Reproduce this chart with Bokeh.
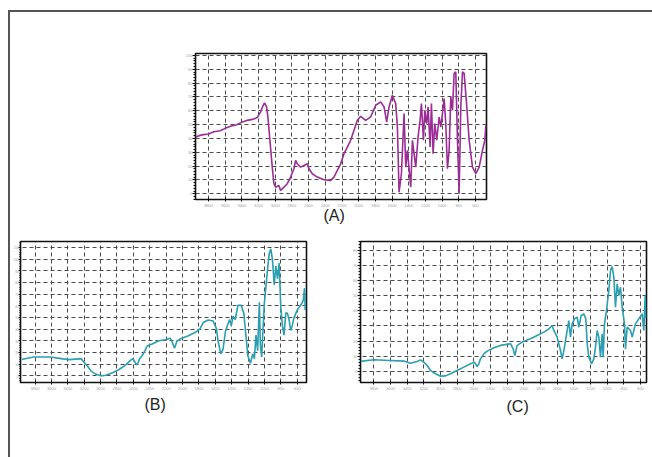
from bokeh.plotting import figure
from bokeh.layouts import row, column
from bokeh.models import Range1d, SingleIntervalTicker, Title, Spacer, Div
from bokeh.embed import file_html
from bokeh.resources import INLINE

# ---------------- data (wavenumber, cm-1 ; transmittance, %) ----------------
wn_a = [3956, 3880, 3800, 3736, 3660, 3600, 3536, 3460, 3400, 3336,
        3260, 3216, 3176, 3144, 3128, 3104, 3088, 3064, 3036, 3016,
        2996, 2956, 2936, 2896, 2856, 2816, 2776, 2756, 2736, 2696,
        2656, 2616, 2596, 2556, 2496, 2416, 2336, 2296, 2256, 2216,
        2176, 2136, 2096, 2056, 2016, 1976, 1916, 1856, 1796, 1736,
        1696, 1664, 1636, 1596, 1556, 1536, 1516, 1488, 1456, 1436,
        1416, 1376, 1356, 1336, 1316, 1288, 1264, 1248, 1224, 1208,
        1184, 1168, 1144, 1128, 1108, 1088, 1064, 1036, 1016, 996,
        976, 956, 936, 916, 896, 876, 856, 836, 816, 796,
        776, 756, 736, 704, 676, 636, 596, 556, 516, 488,
        476]
t_a = [41.1, 42.6, 43.2, 44.9, 45.6, 47.3, 48.8, 49.9, 51.8, 53.1,
       54.0, 55.1, 59.2, 64.0, 65.7, 62.8, 55.5, 38.7, 19.3, 7.3,
       4.8, 6.0, 2.4, 4.8, 7.3, 12.1, 18.1, 24.2, 21.7, 19.3,
       20.5, 21.7, 18.1, 14.5, 12.1, 10.2, 9.7, 12.1, 16.9, 21.7,
       29.0, 33.8, 38.7, 45.9, 53.1, 56.0, 53.1, 55.6, 64.0, 66.4,
       62.8, 51.9, 62.8, 71.2, 65.2, 48.3, 1.2, 14.5, 58.0, 19.3,
       31.4, 4.8, 38.7, 29.0, 19.3, 41.1, 53.1, 65.2, 38.7, 60.4,
       50.7, 62.8, 33.8, 65.2, 29.0, 50.7, 38.7, 55.5, 48.3, 58.0,
       68.8, 50.7, 18.1, 31.4, 70.0, 60.4, 87.0, 88.2, 38.7, 0.0,
       62.8, 88.2, 87.0, 62.8, 38.7, 19.3, 14.5, 19.3, 31.4, 38.7,
       49.5]

wn_b = [3961, 3820, 3619, 3458, 3377, 3236, 3208, 3156, 3116, 3055,
        2995, 2935, 2854, 2774, 2693, 2633, 2605, 2572, 2552, 2524,
        2492, 2460, 2432, 2371, 2291, 2210, 2150, 2122, 2098, 2069,
        2029, 1929, 1848, 1788, 1747, 1687, 1627, 1586, 1566, 1534,
        1506, 1478, 1454, 1426, 1405, 1385, 1357, 1325, 1285, 1253,
        1224, 1204, 1172, 1144, 1124, 1104, 1084, 1063, 1051, 1035,
        1003, 983, 963, 943, 923, 903, 882, 862, 842, 822,
        802, 782, 762, 741, 721, 701, 681, 661, 641, 601,
        560, 528, 512, 504]
t_b = [14.0, 16.2, 16.2, 14.6, 14.0, 14.8, 12.2, 8.1, 4.1, 1.4,
       0.1, 0.6, 2.8, 5.5, 9.5, 13.5, 14.8, 10.8, 9.5, 14.8,
       17.5, 21.5, 25.6, 27.4, 30.1, 30.9, 32.3, 28.2, 23.7, 29.6,
       31.7, 34.4, 37.1, 40.3, 45.7, 47.8, 47.0, 40.3, 29.6, 18.9,
       22.9, 37.6, 43.0, 48.3, 43.0, 51.0, 48.3, 60.4, 60.4, 53.7,
       32.3, 17.5, 10.8, 18.9, 14.8, 34.9, 21.5, 63.1, 26.9, 16.2,
       61.7, 76.5, 91.2, 104.6, 108.6, 99.3, 77.8, 93.9, 83.2, 96.6,
       59.1, 43.0, 34.9, 53.7, 53.7, 48.3, 39.0, 43.0, 49.7, 56.4,
       60.4, 64.4, 75.1, 56.4]

wn_c = [3960, 3800, 3600, 3440, 3360, 3280, 3240, 3200, 3160, 3120,
        3060, 3000, 2940, 2880, 2800, 2720, 2640, 2592, 2560, 2540,
        2520, 2480, 2440, 2360, 2280, 2160, 2128, 2108, 2080, 2020,
        1920, 1840, 1760, 1700, 1660, 1640, 1600, 1560, 1540, 1512,
        1480, 1460, 1440, 1420, 1392, 1360, 1340, 1312, 1280, 1256,
        1240, 1220, 1188, 1160, 1140, 1120, 1100, 1080, 1060, 1048,
        1032, 1008, 980, 960, 940, 920, 900, 880, 860, 840,
        820, 792, 780, 760, 720, 700, 660, 620, 580, 560,
        544, 536]
t_c = [6.5, 7.6, 7.1, 6.7, 5.3, 6.4, 7.5, 6.0, 3.8, 0.5,
       -1.7, -3.3, -3.1, -1.7, 0.5, 2.7, 4.9, 6.0, 3.1, 4.9,
       8.2, 11.5, 13.3, 15.5, 17.1, 18.2, 14.8, 10.4, 17.1, 19.3,
       21.5, 23.7, 25.9, 28.1, 30.3, 27.0, 22.6, 13.7, 8.2, 16.0,
       27.0, 33.6, 22.6, 31.4, 34.7, 35.8, 29.2, 36.9, 38.0, 34.7,
       18.2, 9.3, 4.9, 8.2, 16.0, 27.0, 22.6, 9.3, 24.8, 9.3,
       31.4, 40.3, 53.5, 66.8, 69.4, 62.4, 42.5, 57.9, 50.2, 55.7,
       42.5, 31.4, 14.8, 29.2, 27.0, 22.6, 31.4, 34.7, 38.0, 27.0,
       50.2, 35.5]

panel_labels = ["(A)", "(B)", "(C)"]
x_tick_step = 200
y_tick_step = 10

PURPLE = "#9c2d97"
TEAL = "#2a9fb0"


def panel(wn, t, xr, yr, color, size, borders, label, loffset, lstandoff, ylab_px, ytick_out):
    bl, bt, br, bb = borders
    p = figure(width=size[0], height=size[1],
               x_range=Range1d(*xr), y_range=Range1d(*yr),
               output_backend="svg", toolbar_location=None,
               min_border_left=bl, min_border_top=bt,
               min_border_right=br, min_border_bottom=bb,
               background_fill_color="white", border_fill_color="white",
               outline_line_color="#111111", outline_line_width=1.6)
    p.line(wn, t, line_color=color, line_width=1.6)
    xt = SingleIntervalTicker(interval=x_tick_step, num_minor_ticks=0)
    yt = SingleIntervalTicker(interval=y_tick_step, num_minor_ticks=5)
    p.xaxis.ticker = xt
    p.xgrid.ticker = xt
    p.yaxis.ticker = yt
    p.ygrid.ticker = yt
    for g in (p.xgrid, p.ygrid):
        g.grid_line_color = "#4a4a4a"
        g.grid_line_dash = "4 3"
        g.grid_line_width = 1
    for ax in (p.xaxis, p.yaxis):
        ax.axis_line_color = "#111111"
        ax.major_tick_line_color = "#111111"
        ax.minor_tick_line_color = "#111111"
        ax.major_label_text_color = "#a0a0a0"
        ax.major_label_text_font = "Liberation Sans"
    p.xaxis.major_tick_in = 2
    p.xaxis.major_tick_out = 2
    p.xaxis.major_label_standoff = 2
    p.xaxis.major_label_text_font_size = "4px"
    p.yaxis.major_tick_in = 0
    p.yaxis.major_tick_out = ytick_out
    p.yaxis.minor_tick_in = 0
    p.yaxis.minor_tick_out = max(1, ytick_out - 1)
    p.yaxis.major_label_standoff = 0
    p.yaxis.major_label_text_font_size = ylab_px
    p.add_layout(Title(text=label, align="left", offset=loffset, standoff=lstandoff,
                       text_font="Liberation Sans", text_font_size="16px",
                       text_font_style="normal", text_color="#222222"), "below")
    return p


pA = panel(wn_a, t_a, (3956, 468), (-4.1, 101.4), PURPLE, (311, 216),
           (16, 41, 4, 29), panel_labels[0], 128, -9, "4px", 3)
pB = panel(wn_b, t_b, (3977, 488), (-5.6, 115), TEAL, (298, 192),
           (7, 4, 2, 38), panel_labels[1], 124, 3, "3px", 2)
pC = panel(wn_c, t_c, (3960, 528), (-7.5, 86), TEAL, (304, 192),
           (14, 13, 4, 38), panel_labels[2], 146, 6, "4px", 3)

vline = Div(text="", width=2, height=447, margin=0,
            styles={"background-color": "#555555"})
hline = Div(text="", width=642, height=2, margin=0,
            styles={"background-color": "#555555"})

rowA = row(Spacer(width=169, height=216), pA)
rowBC = row(pB, Spacer(width=38, height=10), pC)
content = column(hline, rowA, rowBC)
root = column(Spacer(width=652, height=10),
              row(Spacer(width=8, height=1), vline, content))

open("out.html", "w").write(file_html(root, INLINE))
